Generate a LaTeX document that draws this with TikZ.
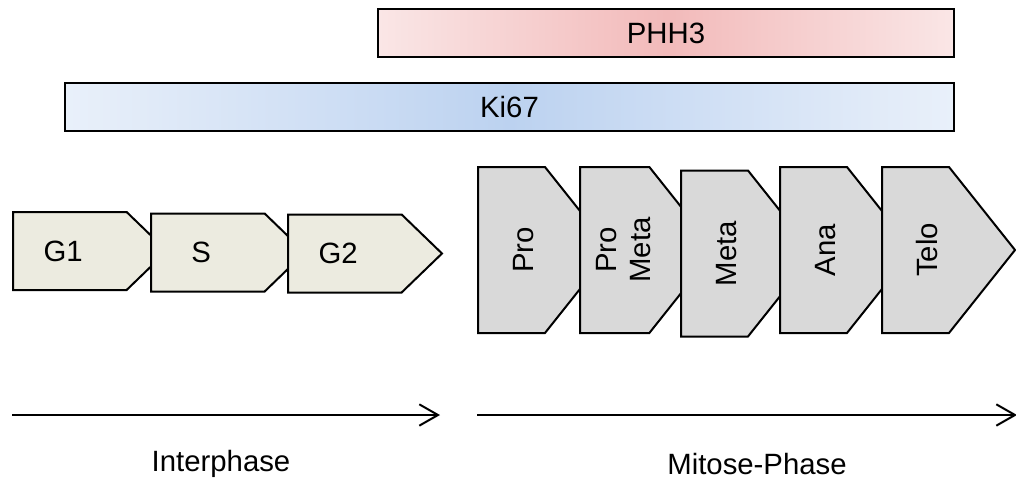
\documentclass[tikz,border=0pt]{standalone}
\usepackage{fontspec}
\setmainfont{Liberation Sans}
\usetikzlibrary{arrows.meta,shapes.symbols}
\definecolor{interfill}{HTML}{ECEBE0}
\definecolor{mitofill}{HTML}{D9D9D9}
\definecolor{kiedge}{HTML}{E9F0FA}
\definecolor{kimid}{HTML}{BCD2F0}
\definecolor{phedge}{HTML}{FAE6E6}
\definecolor{phmid}{HTML}{F2BABA}

\begin{document}
\begin{tikzpicture}[x=0.75pt,y=-0.75pt,
	every node/.style={font=\fontsize{22}{26}\selectfont},
	marker/.style={draw, line width=1.5pt, minimum height=36pt, anchor=west, inner sep=0pt},
	interstep/.style={signal, signal to=east, signal from=nowhere, signal pointer angle=88,
		draw, line width=1.5pt, fill=interfill, minimum width=115.5pt, minimum height=58.5pt,
		anchor=west, inner sep=0pt,
		execute at begin node=\hspace{-5pt}, execute at end node=\hspace{5pt}},
	mitostep/.style={signal, signal to=east, signal from=nowhere, signal pointer angle=103,
		draw, line width=1.5pt, fill=mitofill, minimum width=99.75pt, minimum height=124.5pt,
		anchor=west, inner sep=0pt,
		execute at begin node=\hspace{9pt}, execute at end node=\hspace{-9pt}},
	phasearrow/.style={line width=1.5pt, -{Straight Barb[length=14pt,width=16pt]}}]
	\useasboundingbox (0,0) rectangle (1016,481);

	% Place marker bars
	\node [marker, minimum width=432pt, left color=phedge, right color=phedge, middle color=phmid] (phh3) at (377,33) {PHH3};
	\node [marker, minimum width=666.75pt, left color=kiedge, right color=kiedge, middle color=kimid] (ki67) at (64,107) {Ki67};

	% Place interphase steps
	\node [interstep] (g1) at (12,251) {G1};
	\node [interstep] (s) at (150,252.5) {S};
	\node [interstep] (g2) at (287,253.5) {G2};

	% Place mitosis steps
	\node [mitostep] (pro) at (477,250) {\rotatebox{90}{Pro}};
	\node [mitostep] (prometa) at (579,250) {\rotatebox{90}{\begin{tabular}{@{}c@{}}Pro\\Meta\end{tabular}}};
	\node [mitostep] (meta) at (680,253.5) {\rotatebox{90}{Meta}};
	\node [mitostep] (ana) at (779,250) {\rotatebox{90}{Ana}};
	\node [mitostep] (telo) at (881,250) {\rotatebox{90}{Telo}};

	% Draw phase arrows
	\coordinate (interstart) at (12,415);
	\coordinate (interend) at (440,415);
	\coordinate (mitostart) at (477,415);
	\coordinate (mitoend) at (1017,415);
	\draw [phasearrow] (interstart) -- (interend);
	\draw [phasearrow] (mitostart) -- (mitoend);
	\node (interphase) at (221,464) {Interphase};
	\node (mitosephase) at (757,464) {Mitose-Phase};
\end{tikzpicture}
\end{document}
